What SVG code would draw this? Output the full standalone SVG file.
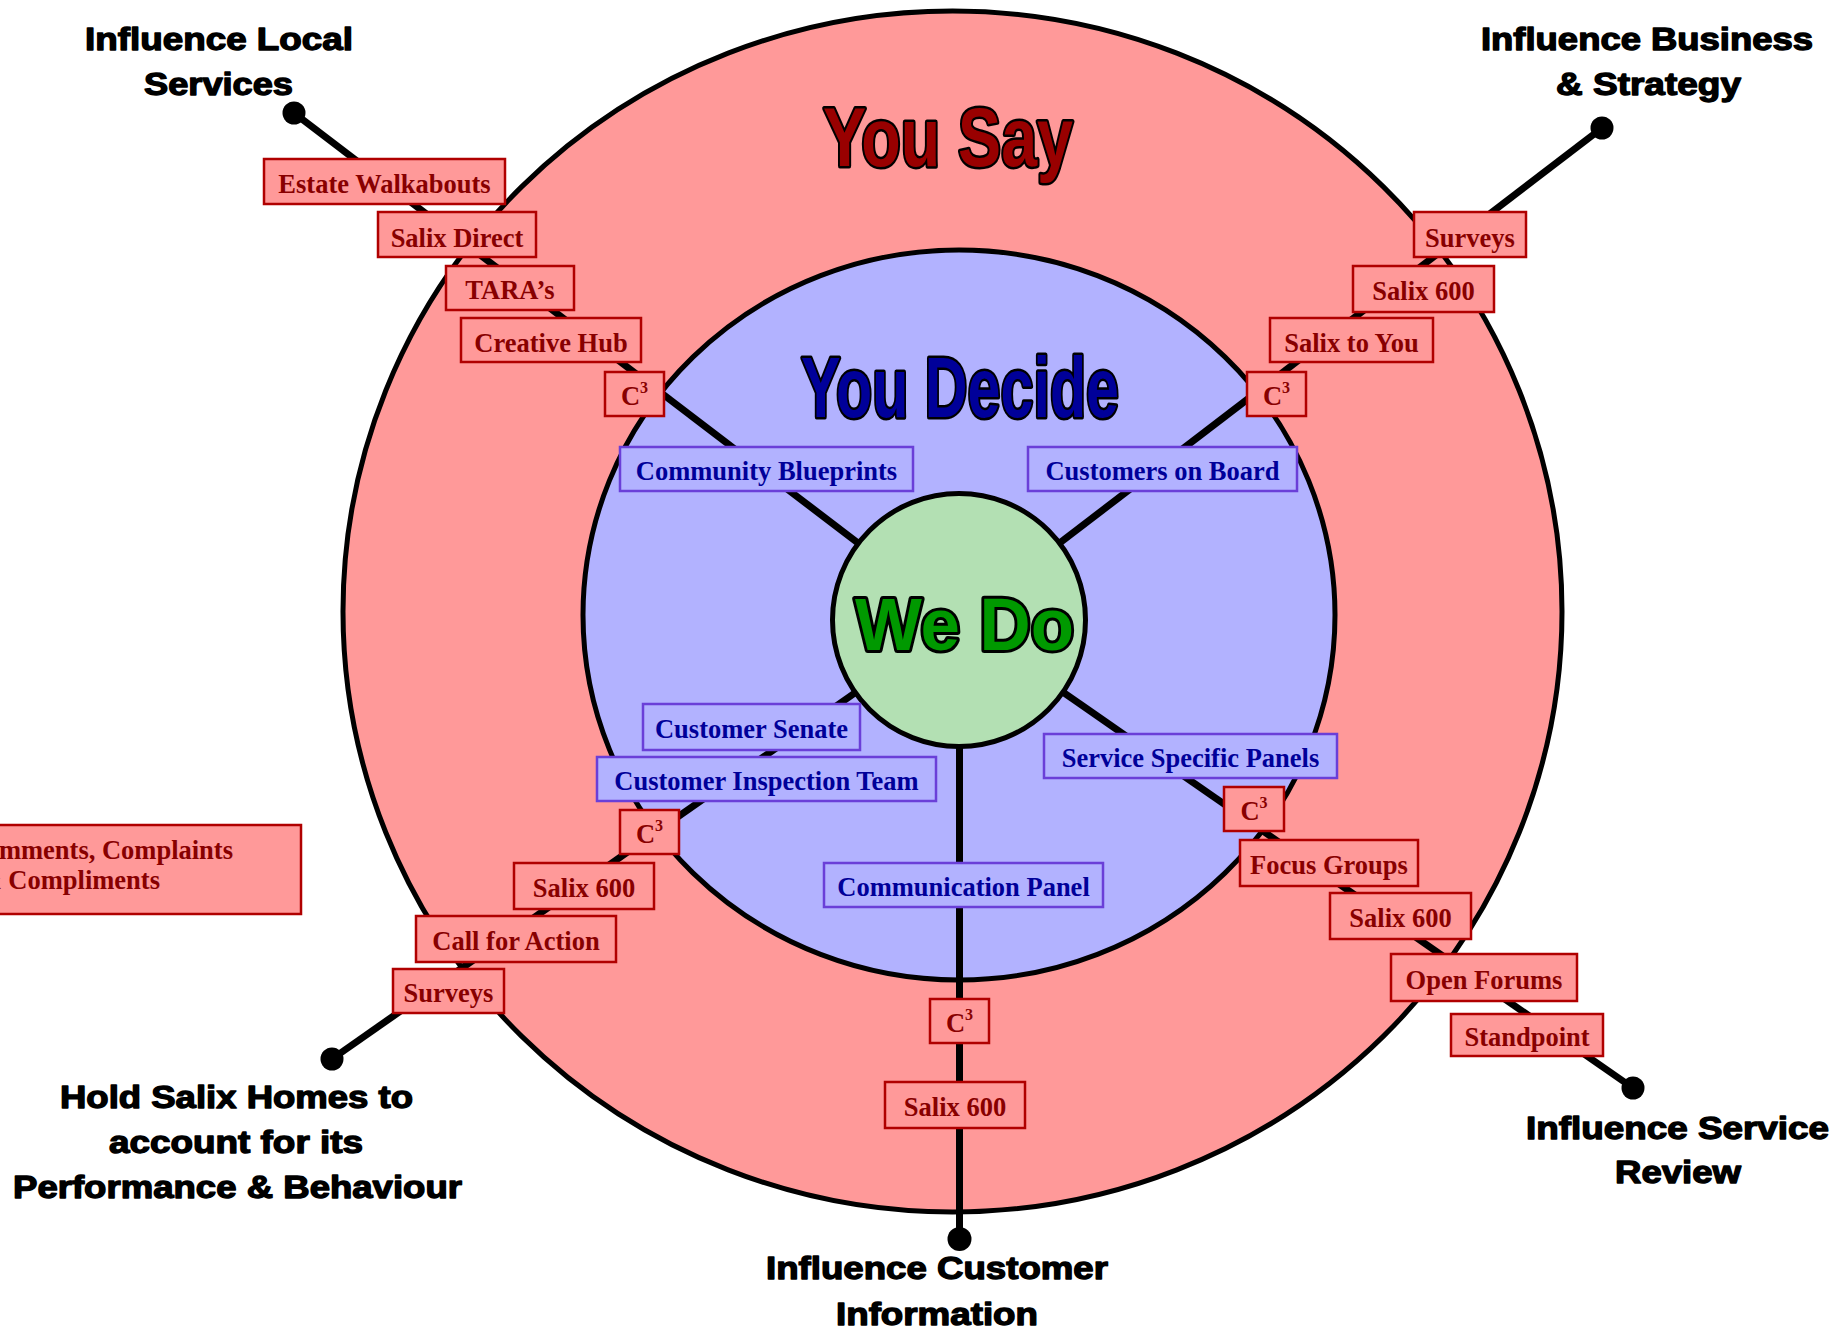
<svg xmlns="http://www.w3.org/2000/svg" width="1843" height="1335" viewBox="0 0 1843 1335">
<style>
.ring{stroke:#000;stroke-width:5}
#connectors line{stroke:#000;stroke-width:7}
#connectors circle{fill:#000}
.rb rect{fill:#FF9999;stroke:#B00000;stroke-width:2.5}
.rb text{fill:#880000;font-family:"Liberation Serif","Times New Roman",serif;font-weight:bold;font-size:26.5px;text-anchor:middle}
.bb rect{fill:#B2B2FF;stroke:#6A3FD8;stroke-width:2.5}
.bb text{fill:#000099;font-family:"Liberation Serif","Times New Roman",serif;font-weight:bold;font-size:26.5px;text-anchor:middle}
.lbl text{font-family:"Liberation Sans",Arial,sans-serif;font-weight:bold;font-size:30.5px;fill:#000;stroke:#000;stroke-width:1.3;stroke-linejoin:round}
.title{font-family:"Liberation Sans",Arial,sans-serif;font-weight:bold;stroke:#000;stroke-width:5;paint-order:stroke;stroke-linejoin:round}
.sup{font-size:16px}
</style>

<g id="you-say">
<ellipse class="ring" cx="952.5" cy="611.5" rx="609.5" ry="600.5" fill="#FF9999"/>
</g>
<g id="you-decide">
<ellipse class="ring" cx="959" cy="615" rx="376" ry="365" fill="#B2B2FF"/>
</g>

<g id="connectors">
<line x1="294" y1="113" x2="959" y2="620"/>
<line x1="1602" y1="128" x2="959" y2="620"/>
<line x1="332" y1="1059" x2="959" y2="620"/>
<line x1="1633" y1="1088" x2="959" y2="620"/>
<line x1="959.5" y1="1239" x2="959.5" y2="620"/>
<circle cx="294" cy="113" r="11.5"/>
<circle cx="1602" cy="128" r="11.5"/>
<circle cx="332" cy="1059" r="11.5"/>
<circle cx="1633" cy="1088" r="11.5"/>
<circle cx="959.5" cy="1239" r="12"/>
</g>

<g id="we-do">
<circle class="ring" cx="959" cy="620" r="126.5" fill="#B3E0B3"/>
<text class="title" x="855" y="650" font-size="74" textLength="219" lengthAdjust="spacingAndGlyphs" fill="#009900" style="stroke-width:6">We Do</text>
</g>
<text id="you-say-title" class="title" x="823" y="166" font-size="83" textLength="250" lengthAdjust="spacingAndGlyphs" fill="#990000">You Say</text>
<text id="you-decide-title" class="title" x="801" y="417" font-size="86" textLength="318" lengthAdjust="spacingAndGlyphs" fill="#000099">You Decide</text>

<g id="label-local" class="lbl">
<text x="85" y="50" textLength="268" lengthAdjust="spacingAndGlyphs">Influence Local</text>
<text x="144" y="95" textLength="149" lengthAdjust="spacingAndGlyphs">Services</text>
</g>
<g id="label-business" class="lbl">
<text x="1481" y="50" textLength="332" lengthAdjust="spacingAndGlyphs">Influence Business</text>
<text x="1556" y="95" textLength="185" lengthAdjust="spacingAndGlyphs">&amp; Strategy</text>
</g>
<g id="label-hold" class="lbl">
<text x="60" y="1108" textLength="353" lengthAdjust="spacingAndGlyphs">Hold Salix Homes to</text>
<text x="109" y="1153" textLength="254" lengthAdjust="spacingAndGlyphs">account for its</text>
<text x="13" y="1198" textLength="449" lengthAdjust="spacingAndGlyphs">Performance &amp; Behaviour</text>
</g>
<g id="label-service" class="lbl">
<text x="1526" y="1139" textLength="303" lengthAdjust="spacingAndGlyphs">Influence Service</text>
<text x="1615" y="1183" textLength="126" lengthAdjust="spacingAndGlyphs">Review</text>
</g>
<g id="label-info" class="lbl">
<text x="766" y="1279" textLength="342" lengthAdjust="spacingAndGlyphs">Influence Customer</text>
<text x="836" y="1325" textLength="202" lengthAdjust="spacingAndGlyphs">Information</text>
</g>

<!-- Top-left -->
<g id="estate-walkabouts" class="rb"><rect x="264" y="159" width="241" height="45"/><text x="384.5" y="193">Estate Walkabouts</text></g>
<g id="salix-direct" class="rb"><rect x="378" y="212" width="158" height="45"/><text x="457" y="246.5">Salix Direct</text></g>
<g id="taras" class="rb"><rect x="446" y="266" width="128" height="44"/><text x="510" y="299">TARA’s</text></g>
<g id="creative-hub" class="rb"><rect x="461" y="318" width="180" height="44"/><text x="551" y="352">Creative Hub</text></g>
<g id="c3-tl" class="rb"><rect x="605" y="372" width="59" height="44"/><text x="634.5" y="405">C<tspan class="sup" dy="-12">3</tspan></text></g>

<!-- Top-right -->
<g id="surveys-tr" class="rb"><rect x="1414" y="212" width="112" height="45"/><text x="1470" y="246.5">Surveys</text></g>
<g id="salix600-tr" class="rb"><rect x="1353" y="266" width="141" height="46"/><text x="1423.5" y="299.5">Salix 600</text></g>
<g id="salix-to-you" class="rb"><rect x="1270" y="318" width="163" height="44"/><text x="1351.5" y="352">Salix to You</text></g>
<g id="c3-tr" class="rb"><rect x="1247" y="372" width="59" height="44"/><text x="1276.5" y="405">C<tspan class="sup" dy="-12">3</tspan></text></g>

<!-- Bottom-left -->
<g id="c3-bl" class="rb"><rect x="620" y="810" width="59" height="44"/><text x="649.5" y="843">C<tspan class="sup" dy="-12">3</tspan></text></g>
<g id="salix600-bl" class="rb"><rect x="514" y="863" width="140" height="46"/><text x="584" y="897">Salix 600</text></g>
<g id="call-for-action" class="rb"><rect x="416" y="916" width="200" height="46"/><text x="516" y="950">Call for Action</text></g>
<g id="surveys-bl" class="rb"><rect x="393" y="969" width="111" height="44"/><text x="448.5" y="1002">Surveys</text></g>

<!-- Bottom-right -->
<g id="c3-br" class="rb"><rect x="1224" y="787" width="60" height="44"/><text x="1254" y="820">C<tspan class="sup" dy="-12">3</tspan></text></g>
<g id="focus-groups" class="rb"><rect x="1240" y="840" width="178" height="46"/><text x="1329" y="874">Focus Groups</text></g>
<g id="salix600-br" class="rb"><rect x="1330" y="893" width="141" height="46"/><text x="1400.5" y="927">Salix 600</text></g>
<g id="open-forums" class="rb"><rect x="1391" y="954" width="186" height="47"/><text x="1484" y="988.5">Open Forums</text></g>
<g id="standpoint" class="rb"><rect x="1451" y="1014" width="152" height="42"/><text x="1527" y="1046">Standpoint</text></g>

<!-- Bottom -->
<g id="c3-b" class="rb"><rect x="930" y="999" width="59" height="44"/><text x="959.5" y="1032">C<tspan class="sup" dy="-12">3</tspan></text></g>
<g id="salix600-b" class="rb"><rect x="885" y="1082" width="140" height="46"/><text x="955" y="1116">Salix 600</text></g>

<!-- Box cut off at the left edge, as in the reference -->
<g id="comments" class="rb"><rect x="-60" y="825" width="361" height="89"/>
<text x="233" y="859" style="text-anchor:end">Comments, Complaints</text>
<text x="160" y="889" style="text-anchor:end">&amp; Compliments</text></g>

<!-- Blue boxes -->
<g id="community-blueprints" class="bb"><rect x="620" y="447" width="293" height="44"/><text x="766.5" y="480">Community Blueprints</text></g>
<g id="customers-on-board" class="bb"><rect x="1028" y="447" width="269" height="44"/><text x="1162.5" y="480">Customers on Board</text></g>
<g id="customer-senate" class="bb"><rect x="643" y="704" width="217" height="46"/><text x="751.5" y="738">Customer Senate</text></g>
<g id="customer-inspection-team" class="bb"><rect x="597" y="757" width="339" height="44"/><text x="766.5" y="790">Customer Inspection Team</text></g>
<g id="service-specific-panels" class="bb"><rect x="1044" y="734" width="293" height="44"/><text x="1190.5" y="767">Service Specific Panels</text></g>
<g id="communication-panel" class="bb"><rect x="824" y="863" width="279" height="44"/><text x="963.5" y="896">Communication Panel</text></g>
</svg>
